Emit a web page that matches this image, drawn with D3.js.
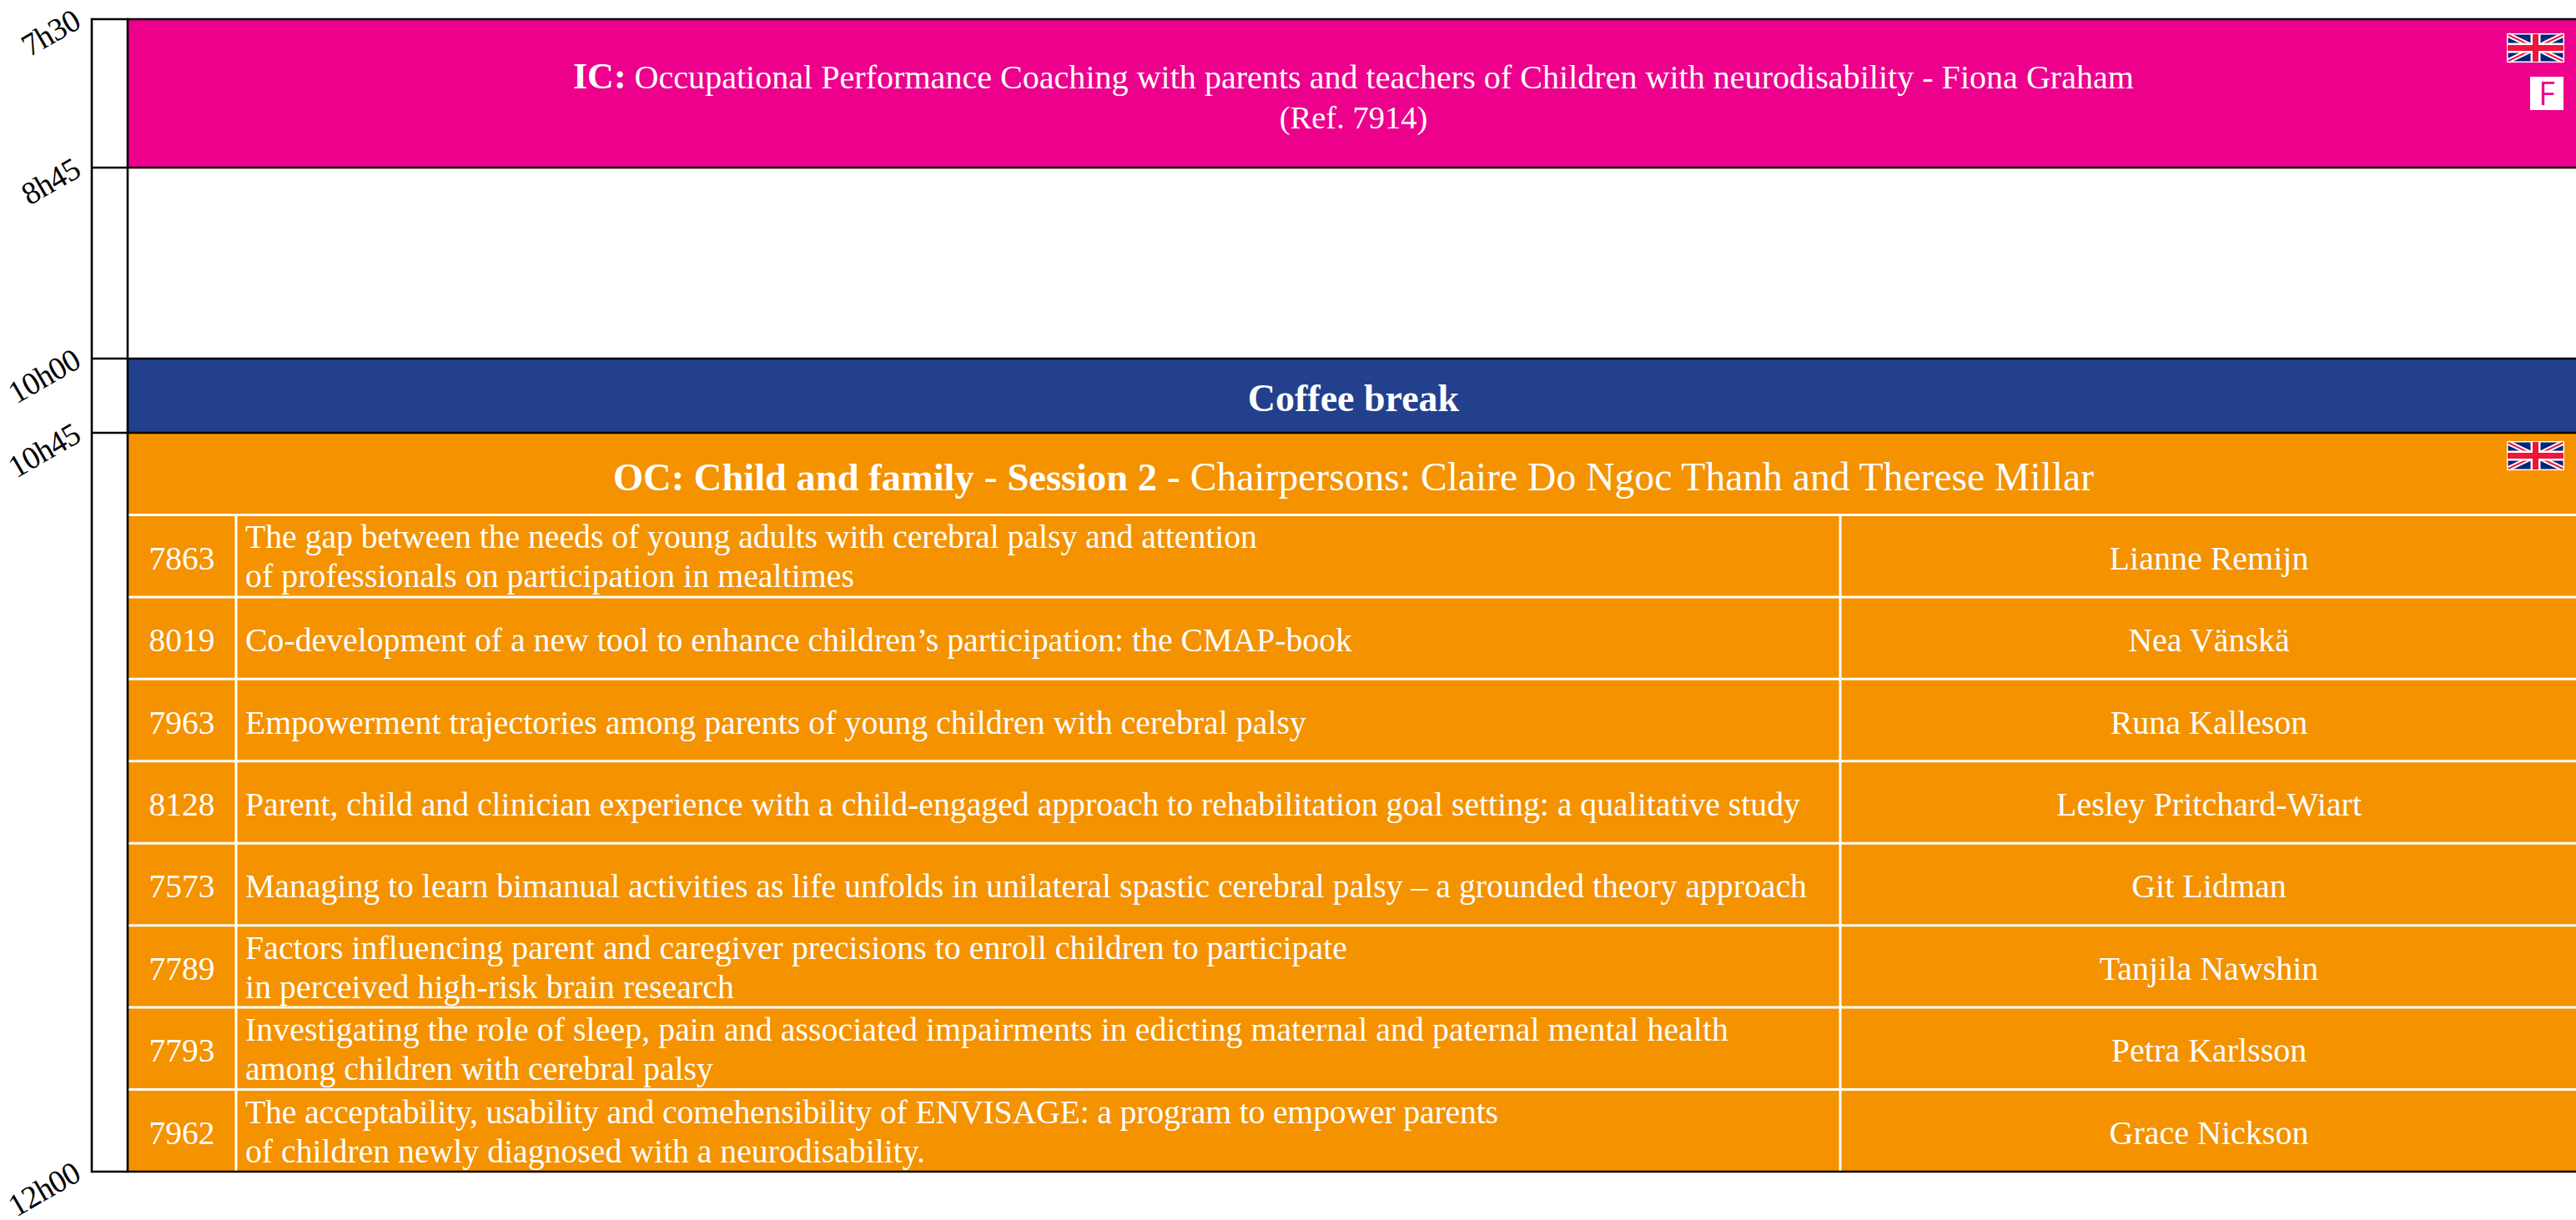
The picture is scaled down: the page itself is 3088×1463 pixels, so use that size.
<!DOCTYPE html>
<html><head><meta charset="utf-8">
<script src="https://cdn.jsdelivr.net/npm/d3@7"></script>
<style>html,body{margin:0;padding:0;background:#fff}svg{display:block}</style>
</head><body><div id="c"></div>
<script>
const timeLabels=["7h30","8h45","10h00","10h45","12h00"];
const timeHours=[7.5,8.75,10,10.75,12];
const refs=["7863","8019","7963","8128","7573","7789","7793","7962"];
const titles=[
["The gap between the needs of young adults with cerebral palsy and attention","of professionals on participation in mealtimes"],
["Co-development of a new tool to enhance children’s participation: the CMAP-book"],
["Empowerment trajectories among parents of young children with cerebral palsy"],
["Parent, child and clinician experience with a child-engaged approach to rehabilitation goal setting: a qualitative study"],
["Managing to learn bimanual activities as life unfolds in unilateral spastic cerebral palsy – a grounded theory approach"],
["Factors influencing parent and caregiver precisions to enroll children to participate","in perceived high-risk brain research"],
["Investigating the role of sleep, pain and associated impairments in edicting maternal and paternal mental health","among children with cerebral palsy"],
["The acceptability, usability and comehensibility of ENVISAGE: a program to empower parents","of children newly diagnosed with a neurodisability."]];
const speakers=["Lianne Remijn","Nea Vänskä","Runa Kalleson","Lesley Pritchard-Wiart","Git Lidman","Tanjila Nawshin","Petra Karlsson","Grace Nickson"];

const W=3088,H=1463,font="'Liberation Serif',serif";
const y=d3.scaleLinear().domain(timeHours).range([23,201,430,519,1405]);
const svg=d3.select("#c").append("svg").attr("width",W).attr("height",H).style("font-family",font);
const x0=110,x1=153,x2=283,x3=2206,titleX=294;
// right ends of the title lines, used only to fit the substitute font to the original line lengths
const titleEnds=[[1507,1024],[1621],[1566],[2158],[2166],[1615,880],[2072,855],[1796,1109]];
const rows=d3.scaleBand().domain(d3.range(-1,refs.length)).range([y(10.75),y(12)]);

const rect=(a,b,c)=>svg.append("rect").attr("x",x1).attr("width",W-x1).attr("y",y(a)).attr("height",y(b)-y(a)).attr("fill",c);
rect(7.5,8.75,"#ec008c");
rect(10,10.75,"#22408c");
rect(10.75,12,"#f49200");

// white table rules
const white=svg.append("g").attr("stroke","#fff").attr("stroke-width",3);
refs.forEach((d,i)=>white.append("line").attr("x1",x1).attr("x2",W).attr("y1",rows(i)).attr("y2",rows(i)));
[x2,x3].forEach(x=>white.append("line").attr("x1",x).attr("x2",x).attr("y1",rows(0)).attr("y2",y(12)));

// black frame
const black=svg.append("g").attr("stroke","#000").attr("stroke-width",2.6);
[x0,x1].forEach(x=>black.append("line").attr("x1",x).attr("x2",x).attr("y1",y(7.5)-1.3).attr("y2",y(12)+1.3));
timeHours.forEach(h=>black.append("line").attr("x1",x0).attr("x2",W).attr("y1",y(h)).attr("y2",y(h)));

// time labels
timeHours.forEach((h,i)=>svg.append("text").attr("text-anchor","end").attr("font-size",38).attr("letter-spacing",-0.6).attr("fill","#000")
  .attr("transform",`translate(99,${y(h)+9}) rotate(-30)`).text(timeLabels[i]));

const T=(x,yy,anchor,size)=>svg.append("text").attr("x",x).attr("y",yy).attr("text-anchor",anchor).attr("font-size",size).attr("fill","#fff");

// IC block
const cx=(x1+W)/2+2;
const ic=T(cx,106,"middle",40.1);
ic.append("tspan").attr("font-weight","bold").attr("font-size",44).text("IC:");
ic.append("tspan").text(" Occupational Performance Coaching with parents and teachers of Children with neurodisability - Fiona Graham");
T(cx,154,"middle",38.5).text("(Ref. 7914)");

// Coffee
T(cx,493,"middle",46).attr("font-weight","bold").text("Coffee break");

// OC header
const oc=T(cx,588,"middle",47.6);
oc.append("tspan").attr("font-weight","bold").attr("font-size",46.5).text("OC: Child and family");
oc.append("tspan").text(" - ");
oc.append("tspan").attr("font-weight","bold").attr("font-size",46.5).text("Session 2");
oc.append("tspan").text(" - Chairpersons: Claire Do Ngoc Thanh and Therese Millar");

// rows
refs.forEach((r,i)=>{
  const top=rows(i),mid=top+rows.bandwidth()/2;
  T((x1+x2)/2,mid+16,"middle",39.5).text(r);
  const ls=titles[i];
  ls.forEach((l,j)=>T(titleX,ls.length===1?mid+16:top+40+j*47,"start",39.8)
    .attr("textLength",titleEnds[i][j]-titleX).attr("lengthAdjust","spacing").text(l));
  T((x3+W)/2+1,mid+16,"middle",40).text(speakers[i]);
});

// flags
function flag(fx,fy){
  const w=69,h=35,g=svg.append("g").attr("transform",`translate(${fx},${fy})`);
  g.append("rect").attr("width",w).attr("height",h).attr("fill","#fff");
  g.append("rect").attr("x",1.5).attr("y",1.5).attr("width",w-3).attr("height",h-3).attr("fill","#00247d");
  const d=`M2,2L${w-2},${h-2}M${w-2},2L2,${h-2}`;
  g.append("path").attr("d",d).attr("stroke","#fff").attr("stroke-width",6);
  g.append("path").attr("d",d).attr("stroke","#f0163a").attr("stroke-width",2);
  g.append("rect").attr("x",w/2-6).attr("y",1).attr("width",12).attr("height",h-2).attr("fill","#fff");
  g.append("rect").attr("x",1).attr("y",h/2-6).attr("width",w-2).attr("height",12).attr("fill","#fff");
  g.append("rect").attr("x",w/2-3.5).attr("y",1).attr("width",7).attr("height",h-2).attr("fill","#f0163a");
  g.append("rect").attr("x",1).attr("y",h/2-3.5).attr("width",w-2).attr("height",7).attr("fill","#f0163a");
}
flag(3005,40);
flag(3005,529);
svg.append("rect").attr("x",3033).attr("y",92).attr("width",40).attr("height",40).attr("fill","#fff");
svg.append("text").attr("x",3053).attr("y",126).attr("text-anchor","middle").attr("font-size",38)
  .style("font-family","'Open Sans',sans-serif").attr("font-weight",400).attr("fill","#ec008c").text("F");
</script></body></html>
